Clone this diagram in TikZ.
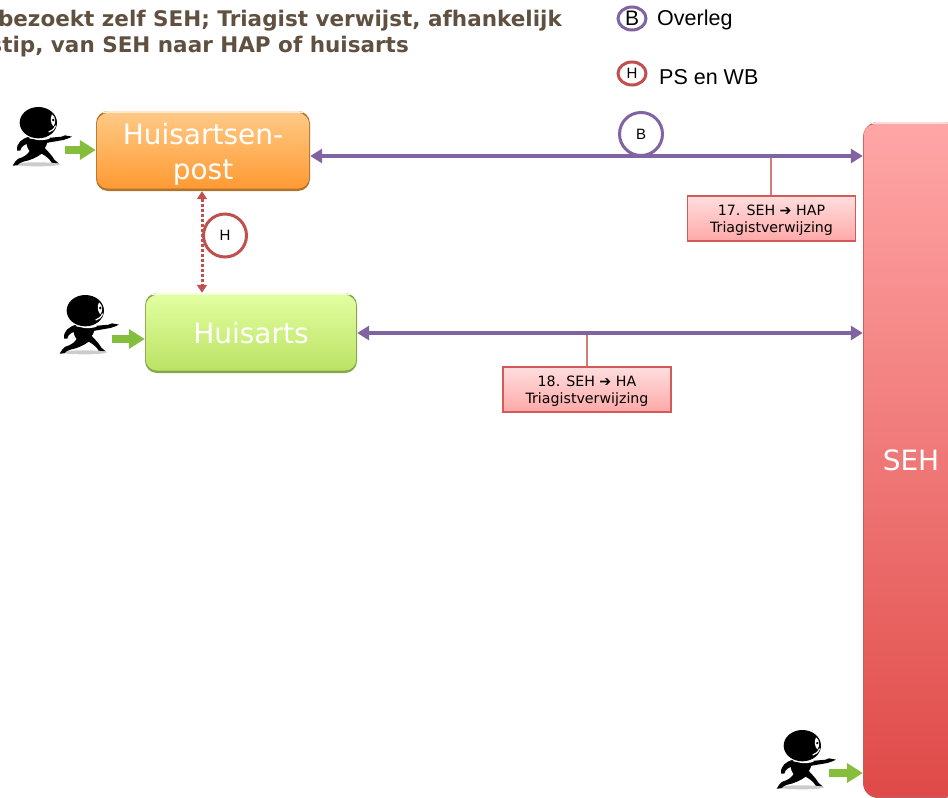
\documentclass[tikz,border=0pt]{standalone}
\usepackage{fontspec}
\setmainfont{DejaVu Sans}
\newfontfamily\arialf{Liberation Sans}
\usetikzlibrary{arrows.meta,calc,shapes.geometric}
\definecolor{overlegc}{HTML}{8064A2}
\definecolor{psc}{HTML}{C0504D}
\definecolor{titlec}{HTML}{5F5040}
\definecolor{greenc}{HTML}{84BE3C}
\definecolor{hapt}{HTML}{FFC985}
\definecolor{hapb}{HTML}{FF9A33}
\definecolor{hape}{HTML}{B0742F}
\definecolor{hat}{HTML}{E2FFA0}
\definecolor{hab}{HTML}{BBE264}
\definecolor{hae}{HTML}{88A650}
\definecolor{seht}{HTML}{FFA6A6}
\definecolor{sehb}{HTML}{DF4A48}
\definecolor{sehe}{HTML}{C85A5A}
\definecolor{callt}{HTML}{FFDEDE}
\definecolor{callb}{HTML}{FFA8A8}
\definecolor{calle}{HTML}{D25A58}
\tikzset{
  bevelbox/.style n args={3}{rounded corners=12pt, inner sep=0pt, align=center, text=white,
    font=\fontsize{28}{35}\selectfont, fill=#3,
    path picture={
      \fill[#1!40!white] (path picture bounding box.north west) rectangle ([shift={(0pt,-3pt)}]path picture bounding box.north east);
      \shade[rounded corners=11pt, top color=#1, bottom color=#2]
        ([shift={(0.8pt,2.5pt)}]path picture bounding box.south west) rectangle ([shift={(-0.8pt,-2.2pt)}]path picture bounding box.north east);
    }},
  overlegline/.style={draw=overlegc, line width=4.5pt, {Triangle[length=12pt,width=14pt]}-{Triangle[length=12pt,width=14pt]}},
  psline/.style={draw=psc, line width=3pt, dash pattern=on 3pt off 2pt, {Triangle[length=8pt,width=10pt]}-{Triangle[length=8pt,width=10pt]}},
  walkin/.style={draw=greenc, line width=8.5pt, -{Triangle[length=16pt,width=19pt]}},
  badge/.style={circle, draw=#1, fill=white, line width=3pt, minimum size=43pt, inner sep=0pt, font=\arialf\fontsize{15}{17}\selectfont},
  legendbadge/.style={ellipse, draw=#1, fill=white, line width=3pt, minimum width=28pt, minimum height=23pt, inner sep=0pt},
  callout/.style={draw=calle, line width=1.2pt, top color=callt, bottom color=callb, minimum width=168pt, minimum height=45pt,
    inner sep=0pt, align=center, font=\fontsize{14.2}{17}\selectfont},
  calloutline/.style={draw=psc!75, line width=1.4pt},
  legendtext/.style={anchor=west, inner sep=0pt, font=\arialf\fontsize{21.5}{25}\selectfont},
  titletext/.style={anchor=base east, inner sep=0pt, text=titlec, font=\bfseries\fontsize{21.5}{25}\selectfont},
  runner/.pic={
    \begin{scope}[x=0.3333pt,y=-0.3333pt,shift={(-39,-52)}]
      \fill[black!20] (112,224) ellipse [x radius=68, y radius=6];
      % legs
      \fill[black] (92,178) .. controls (85,195) and (70,203) .. (55,207) .. controls (48,212) and (42,220) .. (38,228) -- (52,227) .. controls (56,222) and (62,218) .. (70,216) .. controls (92,212) and (112,202) .. (125,192) .. controls (140,200) and (150,210) .. (155,219) -- (176,221) -- (164,211) .. controls (155,195) and (140,182) .. (130,170) -- cycle;
      % body
      \fill[black] (80,146) .. controls (76,172) and (90,194) .. (108,194) .. controls (128,192) and (140,172) .. (144,150) -- cycle;
      % pointing arm
      \fill[black] (132,146) -- (185,141) -- (195,137) -- (216,141) -- (205,146) -- (190,151) -- (132,161) -- cycle;
      % back arm
      \fill[black] (88,141) .. controls (65,147) and (49,160) .. (51,183) -- (61,183) .. controls (63,171) and (72,164) .. (90,160) -- cycle;
      % collar
      \draw[white, line width=1.6pt] (82,138) .. controls (100,150) and (125,152) .. (148,145);
      % head
      \fill[black] (115,99) ellipse [x radius=56, y radius=47];
      % eye
      \fill[white] (156,74) .. controls (168,82) and (168,100) .. (160,110) .. controls (152,102) and (150,86) .. (156,74) -- cycle;
      \fill[black] (160,91) circle [radius=4];
      % grin
      \draw[white, line width=1.2pt] (146,127) .. controls (154,125) and (162,119) .. (167,108);
    \end{scope}
  }
}
\begin{document}
\begin{tikzpicture}[x=1pt,y=-1pt]
\useasboundingbox (0,0) rectangle (948,798);
\clip (0,0) rectangle (948,798);

% title
\node[titletext] (title1) at (562,26) {bezoekt zelf SEH; Triagist verwijst, afhankelijk};
\node[titletext] (title2) at (409,52) {stip, van SEH naar HAP of huisarts};

% legend
\node[legendbadge=overlegc, font=\arialf\fontsize{21}{24}\selectfont] (lb) at (632,18.5) {B};
\node[legendtext] (lbt) at (657,20) {Overleg};
\node[legendbadge=psc, font=\arialf\fontsize{15}{16}\selectfont] (lh) at (632,73.5) {H};
\node[legendtext] (lht) at (659,77.5) {PS en WB};

% boxes
\node[bevelbox={hapt}{hapb}{hape}, minimum width=214pt, minimum height=80pt] (hap) at (203,151) {\rule{0pt}{28pt}Huisartsen-\\post};
\node[bevelbox={hat}{hab}{hae}, minimum width=212pt, minimum height=80pt] (ha) at (251,333) {Huisarts};
\node[bevelbox={seht}{sehb}{sehe}, rounded corners=15pt, minimum width=96pt, minimum height=676pt] (seh) at (911,460) {SEH};

% people
\pic at (13,107) {runner};
\pic at (60,295) {runner};
\pic at (777,730) {runner};
\coordinate (p1) at (65,150);
\coordinate (p2) at (112,339);
\coordinate (p3) at (829,773);
\draw[walkin] (p1) -- (p1 -| hap.west);
\draw[walkin] (p2) -- (p2 -| ha.west);
\draw[walkin] (p3) -- (p3 -| seh.west);

% badges
\node[badge=overlegc] (bb) at (641,134) {B};
\node[badge=psc] (bh) at (225,235.5) {H};

% callouts
\node[callout] (c17) at (771.5,218.5) {\rule{0pt}{14.5pt}17. SEH {\bfseries ➔} HAP\\Triagistverwijzing};
\node[callout] (c18) at (587,389.5) {\rule{0pt}{14.5pt}18. SEH {\bfseries ➔} HA\\Triagistverwijzing};

% connectors
\draw[calloutline] ([xshift=-0.5pt]c17.north) -- ([xshift=-0.5pt]c17.north |- 0,156);
\draw[calloutline] (c18.north) -- (c18.north |- 0,333);
\draw[overlegline] ([yshift=-5pt]hap.east) -- ([yshift=-5pt]hap.east -| seh.west);
\draw[overlegline] (ha.east) -- (ha.east -| seh.west);
\draw[psline] ([xshift=-1pt]hap.south) -- ([xshift=-1pt]hap.south |- ha.north);
\end{tikzpicture}
\end{document}
